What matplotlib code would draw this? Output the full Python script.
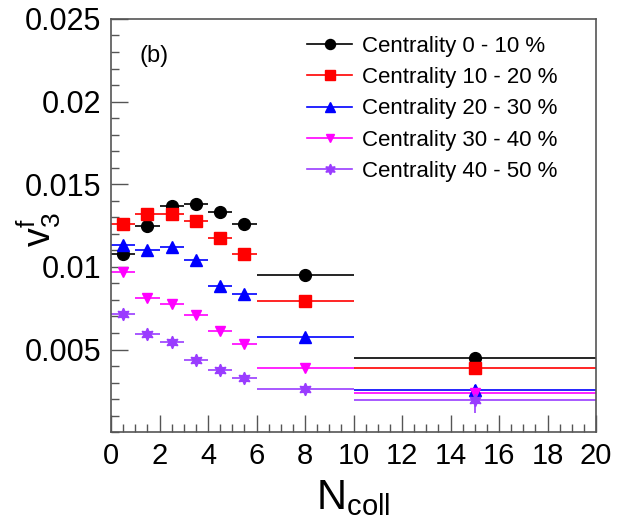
import matplotlib
matplotlib.use("Agg")
import matplotlib.pyplot as plt
from matplotlib.lines import Line2D
from matplotlib.ticker import MultipleLocator

plt.rcParams["font.family"] = ["Liberation Sans", "DejaVu Sans"]
plt.rcParams["mathtext.fontset"] = "custom"
plt.rcParams["mathtext.rm"] = "Liberation Sans"
plt.rcParams["mathtext.it"] = "Liberation Sans"

# bin centres and half widths in N_coll
ncoll = [0.5, 1.5, 2.5, 3.5, 4.5, 5.5, 8, 15]
ncoll_err = [0.5, 0.5, 0.5, 0.5, 0.5, 0.5, 2, 5]

labels = ["Centrality 0 - 10 %", "Centrality 10 - 20 %", "Centrality 20 - 30 %",
          "Centrality 30 - 40 %", "Centrality 40 - 50 %"]

v3_c0 = [0.01077, 0.01245, 0.01370, 0.01382, 0.01334, 0.01261, 0.00948, 0.00446]
v3_c1 = [0.01259, 0.01320, 0.01320, 0.01275, 0.01172, 0.01079, 0.00791, 0.00387]
v3_c2 = [0.01134, 0.01103, 0.01123, 0.01039, 0.00887, 0.00837, 0.00577, 0.00258]
v3_c3 = [0.00969, 0.00811, 0.00775, 0.00710, 0.00613, 0.00536, 0.00389, 0.00234]
v3_c4 = [0.00714, 0.00591, 0.00545, 0.00438, 0.00379, 0.00327, 0.00262, 0.00197]

err_c0 = [0.00005, 0.00005, 0.00005, 0.00005, 0.00005, 0.00005, 0.00005, 0.0001]
err_c1 = [0.00005, 0.00005, 0.00005, 0.00005, 0.00005, 0.00005, 0.00005, 0.0002]
err_c2 = [0.00005, 0.00005, 0.00005, 0.00005, 0.00005, 0.00005, 0.00005, 0.0003]
err_c3 = [0.00005, 0.00005, 0.00005, 0.00005, 0.00005, 0.00005, 0.00005, 0.0003]
err_c4 = [0.00005, 0.00005, 0.00005, 0.00005, 0.00005, 0.00005, 0.00005, 0.0008]

series = [v3_c0, v3_c1, v3_c2, v3_c3, v3_c4]
errors = [err_c0, err_c1, err_c2, err_c3, err_c4]
colors = ["black", "#ff0000", "#0000ff", "#ff00ff", "#9a3cff"]
markers = ["o", "s", "^", "v", (6, 1, 0)]
msizes = [8.5, 8, 8.5, 7.5, 9]

fig = plt.figure(figsize=(6.17, 5.27), dpi=100)
ax = fig.add_axes([0.180, 0.180, 0.786, 0.784])

handles = []
for y, e, c, m, ms, lab in zip(series, errors, colors, markers, msizes, labels):
    ax.errorbar(ncoll, y, xerr=ncoll_err, yerr=e, marker=m, linestyle="none",
                color=c, ms=ms, mec=c, mfc=c, elinewidth=1.2, capsize=0)
    handles.append(Line2D([], [], color=c, marker=m, ms=ms * 0.85, lw=1.2,
                          label=lab))

ax.set_xlim(0, 20)
ax.set_ylim(0, 0.025)
ax.xaxis.set_major_locator(MultipleLocator(2))
ax.xaxis.set_minor_locator(MultipleLocator(0.5))
ax.yaxis.set_major_locator(MultipleLocator(0.005))
ax.yaxis.set_minor_locator(MultipleLocator(0.001))
ax.set_yticks([0.005, 0.01, 0.015, 0.02, 0.025])
ax.set_yticklabels(["0.005", "0.01", "0.015", "0.02", "0.025"])

ax.tick_params(which="both", direction="in", colors="#555555",
               labelcolor="black", width=1.0)
ax.tick_params(axis="y", labelsize=22)
ax.tick_params(axis="x", labelsize=21)
ax.tick_params(which="major", length=12, pad=7)
ax.tick_params(which="minor", length=6)
for s in ax.spines.values():
    s.set_color("#555555")
    s.set_linewidth(1.2)

ax.set_xlabel(r"$\mathregular{N_{coll}}$", fontsize=30, labelpad=6)
ax.set_ylabel(r"$\mathregular{v_{3}^{f}}$", fontsize=27)
ax.yaxis.set_label_coords(-0.10, 0.49)

ax.text(0.058, 0.895, "(b)", transform=ax.transAxes, fontsize=17)

leg = ax.legend(handles=handles, loc="upper left", bbox_to_anchor=(0.405, 0.959),
                frameon=False, fontsize=16, handlelength=2.0,
                handletextpad=0.45, labelspacing=0.46, borderpad=0,
                borderaxespad=0)

fig.savefig("out.png", dpi=100)
